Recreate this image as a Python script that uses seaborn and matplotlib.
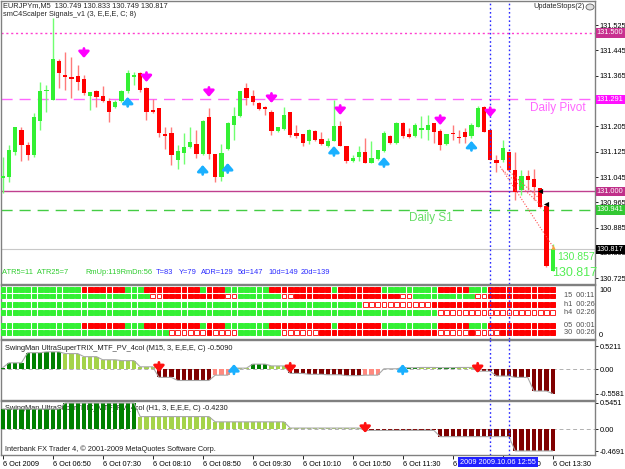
import numpy as np
import pandas as pd
import matplotlib
matplotlib.use('Agg')
import matplotlib.pyplot as plt
import seaborn as sns

sns.set_theme(style='white')
plt.rcParams['font.family'] = ['Liberation Sans', 'DejaVu Sans']

W, H = 625, 469

# ---------------- data ----------------
opens = [131.042, 131.045, 131.124, 131.193, 131.146, 131.114, 131.222, 131.318, 131.288, 131.411,
         131.367, 131.361, 131.364, 131.354, 131.301, 131.317, 131.301, 131.285, 131.266, 131.285,
         131.317, 131.361, 131.373, 131.326, 131.257, 131.263, 131.181, 131.184, 131.099, 131.121,
         131.140, 131.149, 131.118, 131.234, 131.118, 131.045, 131.133, 131.209, 131.238, 131.326,
         131.301, 131.279, 131.266, 131.250, 131.190, 131.196, 131.250, 131.184, 131.181, 131.159,
         131.190, 131.165, 131.143, 131.159, 131.206, 131.143, 131.095, 131.108, 131.124, 131.089,
         131.102, 131.127, 131.174, 131.152, 131.215, 131.181, 131.174, 131.193, 131.193, 131.215,
         131.190, 131.149, 131.184, 131.171, 131.187, 131.174, 131.203, 131.266, 131.193, 131.099,
         131.099, 131.124, 131.067, 131.004, 131.048, 131.038, 131.010, 130.953, 130.749]
highs = [131.108, 131.146, 131.203, 131.203, 131.155, 131.247, 131.345, 131.335, 131.547, 131.418,
         131.440, 131.424, 131.399, 131.367, 131.313, 131.320, 131.332, 131.294, 131.288, 131.320,
         131.383, 131.377, 131.377, 131.329, 131.291, 131.263, 131.203, 131.203, 131.146, 131.184,
         131.203, 131.193, 131.225, 131.263, 131.118, 131.149, 131.219, 131.266, 131.317, 131.342,
         131.320, 131.282, 131.269, 131.257, 131.203, 131.266, 131.250, 131.209, 131.181, 131.196,
         131.193, 131.187, 131.168, 131.288, 131.222, 131.143, 131.114, 131.143, 131.168, 131.159,
         131.130, 131.190, 131.178, 131.219, 131.219, 131.200, 131.215, 131.238, 131.241, 131.215,
         131.196, 131.181, 131.209, 131.193, 131.200, 131.215, 131.269, 131.269, 131.193, 131.114,
         131.162, 131.124, 131.124, 131.067, 131.067, 131.070, 131.010, 130.953, 130.833]
lows = [130.994, 131.029, 131.114, 131.095, 131.099, 131.108, 131.193, 131.250, 131.288, 131.326,
        131.320, 131.294, 131.320, 131.304, 131.257, 131.266, 131.282, 131.219, 131.263, 131.282,
        131.310, 131.335, 131.313, 131.225, 131.247, 131.171, 131.133, 131.083, 131.070, 131.086,
        131.137, 131.105, 131.114, 131.102, 131.029, 131.032, 131.130, 131.162, 131.234, 131.272,
        131.272, 131.257, 131.241, 131.178, 131.187, 131.193, 131.171, 131.168, 131.143, 131.149,
        131.159, 131.146, 131.140, 131.159, 131.143, 131.089, 131.092, 131.095, 131.089, 131.089,
        131.099, 131.124, 131.149, 131.149, 131.168, 131.168, 131.171, 131.168, 131.162, 131.152,
        131.130, 131.146, 131.162, 131.152, 131.152, 131.168, 131.203, 131.187, 131.099, 131.061,
        131.092, 131.067, 130.972, 130.988, 131.004, 130.972, 130.947, 130.761, 130.749]
closes = [131.048, 131.130, 131.203, 131.146, 131.114, 131.234, 131.317, 131.320, 131.418, 131.373,
          131.361, 131.354, 131.345, 131.310, 131.313, 131.298, 131.285, 131.250, 131.282, 131.317,
          131.373, 131.367, 131.320, 131.250, 131.250, 131.184, 131.174, 131.114, 131.127, 131.140,
          131.155, 131.118, 131.222, 131.118, 131.045, 131.121, 131.215, 131.238, 131.317, 131.294,
          131.282, 131.260, 131.260, 131.190, 131.203, 131.241, 131.178, 131.174, 131.152, 131.193,
          131.162, 131.149, 131.159, 131.206, 131.143, 131.095, 131.105, 131.124, 131.089, 131.105,
          131.130, 131.184, 131.152, 131.215, 131.174, 131.171, 131.209, 131.200, 131.209, 131.187,
          131.146, 131.181, 131.181, 131.168, 131.171, 131.209, 131.263, 131.187, 131.099, 131.089,
          131.137, 131.067, 130.998, 131.048, 131.035, 131.013, 130.950, 130.764, 130.817]

# signal arrows on price chart (bar number, arrow tip price)
sell_bars = [14, 24, 34, 44, 55, 71, 79]
sell_tips = [131.421, 131.345, 131.298, 131.279, 131.241, 131.209, 131.234]
buy_bars = [21, 33, 37, 54, 62, 76]
buy_tips = [131.298, 131.083, 131.089, 131.143, 131.108, 131.159]

# horizontal levels
level_r1 = 131.500
level_pivot = 131.291
level_mid = 131.000
level_s1 = 130.941
level_bid = 130.817
price_ticks = [131.525, 131.445, 131.365, 131.285, 131.205, 131.125, 131.045, 130.965, 130.885, 130.805, 130.725]

# status squares (G=green, R=red, o=hollow)
sq_row1 = 'G' * 13 + 'R' * 7 + 'G' * 3 + 'R' * 9 + 'G' + 'R' * 3 + 'G' * 7 + 'R' * 10 + 'G' + 'R' * 7 + 'G' * 9 + 'R' * 5 + 'G' * 3 + 'R' * 11
sq_row2 = 'G' * 24 + 'o' * 2 + 'R' * 10 + 'o' * 2 + 'G' * 7 + 'o' * 2 + 'R' * 17 + 'o' * 2 + 'G' * 10 + 'o' * 2 + 'R' * 11
sq_row3 = 'G' * 58 + 'o' * 11 + 'R' * 20
sq_row4 = 'G' * 70 + 'o' * 19
sq_row5 = sq_row1
sq_row6 = 'G' * 27 + 'o' * 6 + 'R' + 'o' * 4 + 'G' * 7 + 'o' * 6 + 'R' * 19 + 'o' * 5 + 'R' + 'o' * 4 + 'R' * 9
sq_labels = ['', '15  00:11', 'h1  00:26', 'h4  02:26', '05  00:01', '30  00:26']

# info line texts
info_green = ['ATR5=11  ATR25=7', 'RmUp:119RmDn:56']
info_blue = ['T=83', 'Y=79', 'ADR=129', '5d=147', '10d=149', '20d=139']

# TRIX M15 histogram (value, colour code G/g/R/r)
trix15_vals = ([0.03] + [0.14] * 3 + [0.37] * 3 + [0.39] * 3 + [0.35] * 3 + [0.28] * 3 + [0.21] * 3 + [0.19] * 3
               + [0.05] * 3 + [-0.19] * 3 + [-0.26] * 3 + [-0.26] * 3 + [-0.14] * 3 + [0.02] * 3 + [0.11] * 3
               + [0.07] * 3 + [-0.10] * 3 + [-0.12] * 3 + [-0.13] * 3 + [-0.15] * 3 + [-0.14] * 3 + [0.005] * 3
               + [0.03] * 3 + [0.035] * 3 + [0.03] * 3 + [0.035] * 3 + [-0.05] * 3 + [-0.16] * 3 + [-0.19] * 3
               + [-0.50] * 3 + [-0.558])
trix15_cols = ('G' * 10 + 'g' * 15 + 'R' * 9 + 'r' * 3 + 'g' * 3 + 'G' * 3 + 'g' * 3 + 'R' * 12 + 'r' * 3
               + 'g' * 3 + 'G' * 3 + 'g' * 3 + 'G' * 3 + 'g' * 3 + 'R' * 13)
trix15_down = [26, 47, 77]
trix15_down_tips = [-0.07, -0.09, -0.09]
trix15_up = [38, 65]
trix15_up_tips = [0.11, 0.11]

# TRIX H1 histogram
trixh1_vals = [0.42] * 10 + [0.545] * 12 + [0.26] * 12 + [0.15] * 12 + [0.02] * 12 + [-0.03] * 12 + [-0.16] * 12 + [-0.46] * 7
trixh1_cols = 'G' * 22 + 'g' * 36 + 'R' * 31
trixh1_down = [59]
trixh1_down_tips = [-0.08]

time_labels = ['6 Oct 2009', '6 Oct 06:50', '6 Oct 07:30', '6 Oct 08:10', '6 Oct 08:50', '6 Oct 09:30',
               '6 Oct 10:10', '6 Oct 10:50', '6 Oct 11:30', '6 Oct 12:10', '6 Oct 12:50', '6 Oct 13:30']
label_bars = [1, 9, 17, 25, 33, 41, 49, 57, 65, 73, 81, 89]
vlines_bars = [79, 82]

# ---------------- figure ----------------
bars = np.arange(1, len(opens) + 1)
fig = plt.figure(figsize=(W / 100, H / 100), dpi=100)
fig.patch.set_facecolor('white')

FS = 5.3


def rect(x0, y0, x1, y1):
    return [x0 / W, 1 - y1 / H, (x1 - x0) / W, (y1 - y0) / H]


def ftext(x, y, s, **kw):
    kw.setdefault('fontsize', FS)
    kw.setdefault('va', 'center')
    fig.text(x / W, 1 - y / H, s, **kw)


XL = (0.728, 95.77)


def style(ax):
    ax.set_facecolor('white')
    ax.set_xlim(*XL)
    for s in ax.spines.values():
        s.set_color('#808080')
        s.set_linewidth(1.0)
    ax.yaxis.tick_right()
    ax.tick_params(axis='y', direction='out', length=2.5, width=0.6, labelsize=FS, pad=1.0,
                   colors='black', right=True, left=False)
    ax.tick_params(axis='x', bottom=False, labelbottom=False)
    for b in vlines_bars:
        ax.axvline(b, color='#2a2aff', lw=1.0, ls=(0, (1.2, 1.8)), zorder=6)


# ---- main price panel ----
ax = fig.add_axes(rect(1, 1, 595, 284))
style(ax)
ax.set_ylim(130.707, 131.601)
ax.set_yticks(price_ticks)
ax.set_yticklabels([f'{v:.3f}' for v in price_ticks])

o = np.array(opens); c = np.array(closes); hi = np.array(highs); lo = np.array(lows)
up = c >= o
ax.vlines(bars[up], lo[up], hi[up], color='#70ff70', lw=1.0, zorder=3)
ax.vlines(bars[~up], lo[~up], hi[~up], color='#ff7a7a', lw=1.0, zorder=3)
body_lo = np.minimum(o, c)
body_h = np.maximum(np.abs(c - o), 0.003)
ax.bar(bars[up], body_h[up], bottom=body_lo[up], width=0.66, color='#33f033', lw=0, zorder=4)
ax.bar(bars[~up], body_h[~up], bottom=body_lo[~up], width=0.66, color='#ff0000', lw=0, zorder=4)

ax.axhline(level_r1, color='#ff3fcf', lw=1.0, ls=(0, (1.5, 2)), zorder=2)
ax.axhline(level_pivot, color='#ff66ff', lw=1.0, ls=(0, (8, 5)), zorder=2)
ax.axhline(level_mid, color='#c0408f', lw=1.0, zorder=2)
ax.axhline(level_s1, color='#44cc44', lw=1.0, ls=(0, (8, 5)), zorder=2)
ax.axhline(level_bid, color='#c8c8c8', lw=0.8, zorder=2)

arrow_len = 0.03
for b, t in zip(sell_bars, sell_tips):
    ax.annotate('', xy=(b, t), xytext=(b, t + arrow_len),
                arrowprops=dict(arrowstyle='-|>,head_width=0.35,head_length=0.4', color='#ff00ff',
                                lw=2.0, shrinkA=0, shrinkB=0, mutation_scale=9), zorder=7)
for b, t in zip(buy_bars, buy_tips):
    ax.annotate('', xy=(b, t), xytext=(b, t - arrow_len),
                arrowprops=dict(arrowstyle='-|>,head_width=0.35,head_length=0.4', color='#1ab0ff',
                                lw=2.0, shrinkA=0, shrinkB=0, mutation_scale=9), zorder=7)

# dotted projection lines near the end
for (x0, y0, x1, y1) in [(80.6, 131.078, 89.0, 130.826), (81.0, 131.067, 87.5, 130.950), (81.8, 131.067, 86.6, 130.982)]:
    ax.plot([x0, x1], [y0, y1], color='#ff5050', lw=0.8, ls=(0, (1, 1.5)), zorder=5)
sns.scatterplot(x=[86.9, 88.0], y=[131.000, 130.960], marker='<', color='black', s=14, ax=ax, zorder=8, linewidth=0)
sns.scatterplot(x=[89.0], y=[130.823], marker='^', color='#ffa040', s=10, ax=ax, zorder=8, linewidth=0)

# right axis price boxes
box_kw = dict(fontsize=FS, va='center', ha='left', color='white', clip_on=False, zorder=10)
tr = ax.get_yaxis_transform()
for val, col in [(level_r1, '#c8308f'), (level_pivot, '#ff10ff'), (level_mid, '#c0308a'),
                 (level_s1, '#33c833'), (level_bid, '#000000')]:
    ax.text(1.003, val, f'{val:.3f}', transform=tr,
            bbox=dict(boxstyle='square,pad=0.15', fc=col, ec='none'), **box_kw)

ax.text(89.8, 131.263, 'Daily Pivot', color='#ff66ff', fontsize=8.5, ha='center', va='center')
ax.text(69.5, 130.915, 'Daily S1', color='#66dd66', fontsize=8.5, ha='center', va='center')

ftext(3, 6, 'EURJPYm,M5  130.749 130.833 130.749 130.817')
ftext(3, 15, 'smC4Scalper Signals_v1 (3, E,E,E, C; 8)')
ftext(533, 7, 'UpdateStops(2)')
fig.patches.append(plt.Circle((590 / W, 1 - 7 / H), 4 / W, transform=fig.transFigure, fc='#e0e0e0', ec='#606060', lw=0.6))

for xp, s in zip([2, 85], info_green):
    ftext(xp, 273, s, color='#2ecc2e', fontsize=5.4)
for xp, s in zip([156, 179, 201, 238, 268, 301], info_blue):
    ftext(xp, 273, s, color='#2a2aff', fontsize=5.4)
ftext(557, 257, '130.857', color='#55ee55', fontsize=7.5)
ftext(552, 273, '130.817', color='#55ee55', fontsize=9)

# ---- status squares panel ----
ax2 = fig.add_axes(rect(1, 285, 595, 339))
style(ax2)
ax2.set_ylim(-8.7, 108.7)
ax2.set_yticks([100, 0])
ax2.set_yticklabels(['100', '0'])
ax2.tick_params(axis='y', length=0, pad=3)
row_y = [98.3, 84.8, 65.7, 48.9, 20.0, 5.4]
sq_h = 10.5
for rows_state, yc, lab in zip([sq_row1, sq_row2, sq_row3, sq_row4, sq_row5, sq_row6], row_y, sq_labels):
    st = np.array(list(rows_state))
    for code, fc, ec in [('G', '#33f033', '#33f033'), ('R', '#ff0000', '#ff0000'), ('o', 'white', '#ff2020')]:
        m = st == code
        ax2.bar(bars[m], sq_h, bottom=yc - sq_h / 2, width=0.78, color=fc, edgecolor=ec, lw=0.7, zorder=3)
    if lab:
        ax2.text(0.948, yc, lab, transform=ax2.get_yaxis_transform(), fontsize=FS, color='#505050',
                 va='center', ha='left')

# ---- TRIX panels ----
col_map = {'G': '#008000', 'g': '#a4d34a', 'R': '#800000', 'r': '#ff8a80'}


def trix_panel(y0, y1, ylim, vals, cols, ticks, tlabels, title, downs, down_tips, ups, up_tips, alen):
    a = fig.add_axes(rect(1, y0, 595, y1))
    style(a)
    a.set_ylim(*ylim)
    a.set_yticks(ticks)
    a.set_yticklabels(tlabels)
    a.axhline(0, color='#b0b0b0', lw=0.7, ls=(0, (4, 3)), zorder=1)
    v = np.array(vals)
    cc = [col_map[k] for k in cols]
    a.bar(bars, v, width=0.66, color=cc, lw=0, zorder=3)
    sns.lineplot(x=bars, y=v, color='#a8a8a8', lw=0.8, ax=a, zorder=4)
    for b, t in zip(downs, down_tips):
        a.annotate('', xy=(b, t), xytext=(b, t + alen),
                   arrowprops=dict(arrowstyle='-|>,head_width=0.35,head_length=0.4', color='#ff1010',
                                   lw=2.0, shrinkA=0, shrinkB=0, mutation_scale=9), zorder=7)
    for b, t in zip(ups, up_tips):
        a.annotate('', xy=(b, t), xytext=(b, t - alen),
                   arrowprops=dict(arrowstyle='-|>,head_width=0.35,head_length=0.4', color='#1ab0ff',
                                   lw=2.0, shrinkA=0, shrinkB=0, mutation_scale=9), zorder=7)
    a.text(0.006, 0.86, title, transform=a.transAxes, fontsize=FS, color='#202020', va='center', zorder=2)
    return a


ax3 = trix_panel(340, 400, (-0.703, 0.658), trix15_vals, trix15_cols, [0.5211, 0.0, -0.5581],
                 ['0.5211', '0.00', '-0.5581'],
                 'SwingMan UltraSuperTRIX_MTF_PV_4col (M15, 3, E,E,E, C) -0.5090',
                 trix15_down, trix15_down_tips, trix15_up, trix15_up_tips, 0.22)
ax4 = trix_panel(401, 455, (-0.545, 0.587), trixh1_vals, trixh1_cols, [0.5451, 0.0, -0.4691],
                 ['0.5451', '0.00', '-0.4691'],
                 'SwingMan UltraSuperTRIX_MTF_PV_4col (H1, 3, E,E,E, C) -0.4230',
                 trixh1_down, trixh1_down_tips, [], [], 0.2)
ax4.text(0.006, 0.11, 'Interbank FX Trader 4, \u00a9 2001-2009 MetaQuotes Software Corp.',
         transform=ax4.transAxes, fontsize=FS, color='#202020', va='center', zorder=9)

ax4.set_xticks(label_bars)
ax4.set_xticklabels(time_labels, ha='left')
ax4.tick_params(axis='x', bottom=True, labelbottom=True, direction='out', length=3, width=0.6,
                labelsize=FS, pad=1.5, colors='black')

ftext(460, 462, '2009 2009.10.06 12:55', color='white',
      bbox=dict(boxstyle='square,pad=0.25', fc='#2020ff', ec='none'))

fig.savefig('out.png', dpi=100)
